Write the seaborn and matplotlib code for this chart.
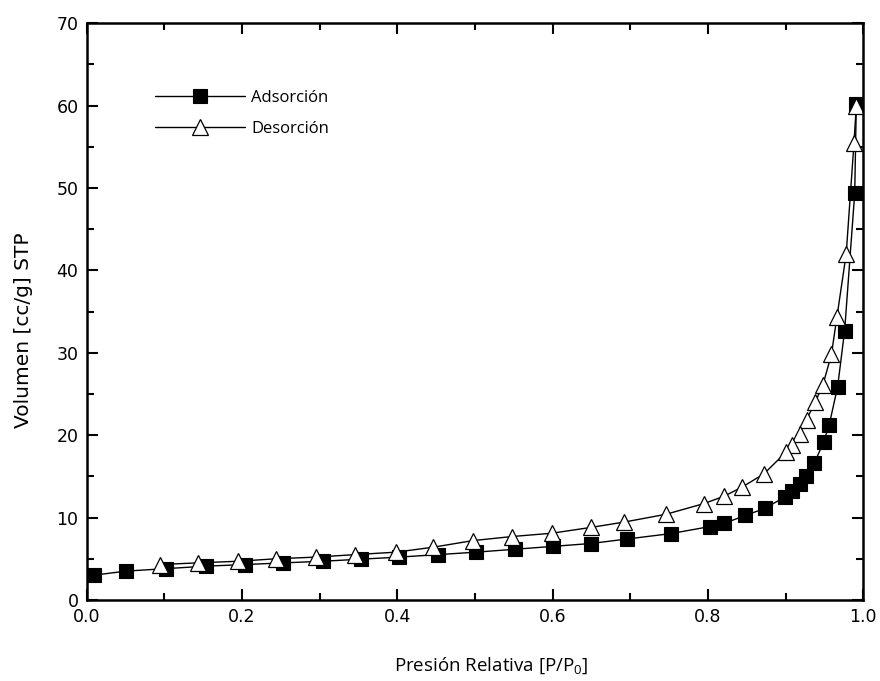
import matplotlib
matplotlib.use("Agg")
import matplotlib.pyplot as plt
import seaborn as sns
import numpy as np
import pandas as pd
from matplotlib.ticker import MultipleLocator, FormatStrFormatter

# Data
ads_x = [0.009, 0.050, 0.102, 0.153, 0.204, 0.253, 0.304, 0.353, 0.402, 0.452,
         0.501, 0.551, 0.600, 0.649, 0.696, 0.752, 0.802, 0.821, 0.848, 0.873,
         0.899, 0.908, 0.918, 0.926, 0.937, 0.949, 0.956, 0.967, 0.976, 0.989, 0.991]
ads_y = [3.0, 3.5, 3.8, 4.1, 4.3, 4.5, 4.7, 4.95, 5.2, 5.5,
         5.8, 6.15, 6.5, 6.85, 7.4, 8.05, 8.9, 9.3, 10.25, 11.1,
         12.5, 13.2, 14.1, 15.1, 16.6, 19.2, 21.2, 25.9, 32.7, 49.4, 60.2]

des_x = [0.991, 0.988, 0.978, 0.966, 0.959, 0.948, 0.938, 0.927, 0.918, 0.908,
         0.900, 0.872, 0.844, 0.821, 0.795, 0.746, 0.692, 0.649, 0.599, 0.548,
         0.497, 0.446, 0.398, 0.345, 0.295, 0.244, 0.195, 0.143, 0.094]
des_y = [60.0, 55.4, 42.0, 34.3, 29.8, 26.1, 24.0, 21.9, 20.2, 18.8,
         17.9, 15.3, 13.7, 12.6, 11.7, 10.4, 9.45, 8.8, 8.1, 7.7,
         7.2, 6.4, 5.8, 5.5, 5.2, 5.0, 4.7, 4.5, 4.3]

labels = ["Adsorción", "Desorción"]
x_label = "Presión Relativa [P/P$\\mathregular{_0}$]"
y_label = "Volumen [cc/g] STP"

sns.set_theme(style="ticks")
plt.rcParams['font.family'] = ['DejaVu Sans']
plt.rcParams['text.color'] = 'black'
plt.rcParams['axes.labelcolor'] = 'black'
plt.rcParams['xtick.color'] = 'black'
plt.rcParams['ytick.color'] = 'black'

fig = plt.figure(figsize=(8.8, 6.81), dpi=100)
ax = fig.add_axes([0.0986, 0.119, 0.8824, 0.847])

df_a = pd.DataFrame({"x": ads_x, "y": ads_y})
df_d = pd.DataFrame({"x": des_x, "y": des_y})

sns.lineplot(data=df_a, x="x", y="y", ax=ax, sort=False, color="black", lw=1.0,
             marker="s", markersize=9.5, markerfacecolor="black",
             markeredgecolor="black", markeredgewidth=0.8, label=labels[0])
sns.lineplot(data=df_d, x="x", y="y", ax=ax, sort=False, color="black", lw=1.0,
             marker="^", markersize=12, markerfacecolor="white",
             markeredgecolor="black", markeredgewidth=0.9, label=labels[1])

ax.set_xlim(0, 1.0)
ax.set_ylim(0, 70)
ax.xaxis.set_major_locator(MultipleLocator(0.2))
ax.xaxis.set_minor_locator(MultipleLocator(0.1))
ax.yaxis.set_major_locator(MultipleLocator(10))
ax.yaxis.set_minor_locator(MultipleLocator(5))
ax.xaxis.set_major_formatter(FormatStrFormatter("%.1f"))

ax.tick_params(which="major", direction="in", length=8, width=1.5,
               top=True, right=True, labelsize=12.5, pad=6, colors="black")
ax.tick_params(which="minor", direction="in", length=5, width=1.5,
               top=True, right=True)
for s in ax.spines.values():
    s.set_linewidth(1.8)
    s.set_color("black")
    s.set_visible(True)

ax.set_xlabel(x_label, fontsize=13.5, family=["Open Sans", "DejaVu Sans"], color="black")
ax.xaxis.set_label_coords(0.521, -0.097)
ax.set_ylabel(y_label, fontsize=14.5, family=["DejaVu Sans"], color="black")
ax.yaxis.set_label_coords(-0.0695, 0.468)

leg = ax.legend(loc="upper left", bbox_to_anchor=(0.069, 0.91), frameon=False,
                handlelength=5.4, handletextpad=0.34, labelspacing=0.9,
                prop={"family": "Open Sans", "size": 12})
for t in leg.get_texts():
    t.set_color("black")

fig.savefig("out.png", dpi=100)
